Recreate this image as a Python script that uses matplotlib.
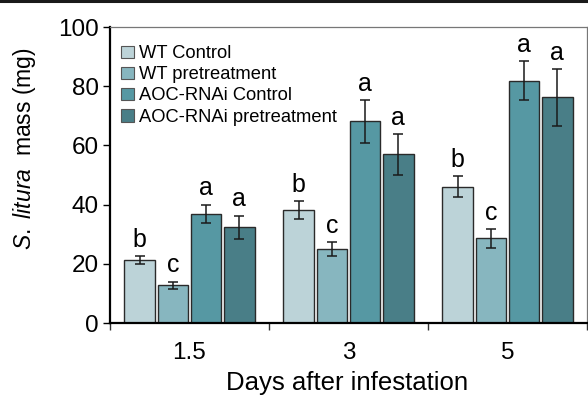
import matplotlib
matplotlib.use("Agg")
import matplotlib.pyplot as plt
import numpy as np
from matplotlib.lines import Line2D

plt.rcParams['font.family'] = ['Liberation Sans', 'DejaVu Sans']
plt.rcParams['mathtext.fontset'] = 'custom'
plt.rcParams['mathtext.it'] = 'Liberation Sans:italic'
plt.rcParams['mathtext.rm'] = 'Liberation Sans'

days = ["1.5", "3", "5"]
series = ["WT Control", "WT pretreatment", "AOC-RNAi Control", "AOC-RNAi pretreatment"]
wt_control = [21.2, 38.3, 46.1]
wt_pre = [12.8, 24.9, 28.6]
aoc_control = [36.9, 68.1, 81.8]
aoc_pre = [32.3, 57.0, 76.2]
wt_control_err = [1.3, 3.0, 3.5]
wt_pre_err = [1.2, 2.4, 3.1]
aoc_control_err = [3.1, 7.3, 6.6]
aoc_pre_err = [4.0, 6.9, 9.7]
letters_wt_control = ["b", "b", "b"]
letters_wt_pre = ["c", "c", "c"]
letters_aoc_control = ["a", "a", "a"]
letters_aoc_pre = ["a", "a", "a"]

values = [wt_control, wt_pre, aoc_control, aoc_pre]
errors = [wt_control_err, wt_pre_err, aoc_control_err, aoc_pre_err]
letters = [letters_wt_control, letters_wt_pre, letters_aoc_control, letters_aoc_pre]
colors = ["#BCD3D8", "#87B6BF", "#5698A3", "#497E87"]

fig = plt.figure(figsize=(5.88, 3.98), dpi=100)
ax = fig.add_axes([110/588, 1-323/398, 477/588, 296/398])

x = np.arange(len(days))
width = 0.19
offsets = [-0.314, -0.104, 0.106, 0.314]
for i in range(4):
    pos = x + offsets[i]
    ax.bar(pos, values[i], width, color=colors[i], edgecolor="#2a2a2a", linewidth=1.0,
           label=series[i], zorder=2)
    ax.errorbar(pos, values[i], yerr=errors[i], fmt='none', ecolor="#1a1a1a",
                elinewidth=1.1, capsize=3.3, capthick=1.1, zorder=3)
    for j in range(len(days)):
        ax.annotate(letters[i][j], (pos[j], values[i][j] + errors[i][j]),
                    xytext=(0, 3), textcoords='offset points', ha='center', va='bottom',
                    fontsize=18)

ax.set_xlim(-0.5, 2.5)
ax.set_ylim(0, 100)
ax.set_yticks([0, 20, 40, 60, 80, 100])
ax.tick_params(axis='y', direction='out', length=5, width=1, labelsize=17.5, pad=3)
ax.set_xticks(x)
ax.set_xticklabels(days)
ax.set_xticks([-0.5, 0.5, 1.5, 2.5], minor=True)
ax.tick_params(axis='x', which='major', length=0, labelsize=17.5, pad=14)
ax.tick_params(axis='x', which='minor', direction='out', length=5, width=1, color="#333333")

for s in ['left', 'bottom']:
    ax.spines[s].set_linewidth(1.6)
    ax.spines[s].set_color('black')
for s in ['top', 'right']:
    ax.spines[s].set_linewidth(0.9)
    ax.spines[s].set_color('#777777')

fig.text(25/588, 1-149/398, r'$\mathit{S.\ litura}$  mass (mg)', rotation=90,
         ha='center', va='center', fontsize=16.5)
fig.text(347/588, 1-383/398, "Days after infestation", ha='center', va='center', fontsize=18.5)

leg = ax.legend(loc='upper left', bbox_to_anchor=(0.0, 0.975), frameon=False,
                fontsize=13.2, handlelength=0.7, handleheight=0.7, handletextpad=0.3,
                labelspacing=0.22, borderaxespad=0.2)
for h in leg.legend_handles:
    h.set_edgecolor('#555555')
    h.set_linewidth(0.8)

fig.add_artist(Line2D([0, 1], [0.997, 0.997], transform=fig.transFigure, color='#1a1a1a', linewidth=2.2))

fig.savefig("out.png", dpi=100)
